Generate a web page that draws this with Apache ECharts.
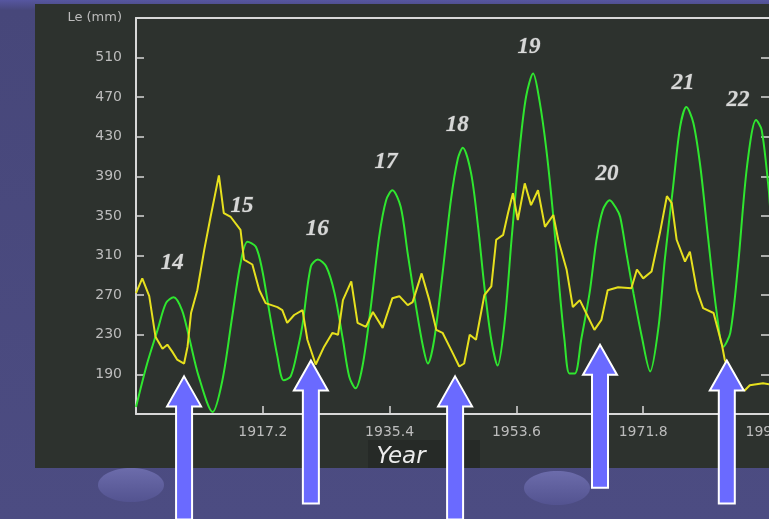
<!DOCTYPE html>
<html>
<head>
<meta charset="utf-8">
<script src="https://cdn.jsdelivr.net/npm/echarts@6/dist/echarts.min.js"></script>
<style>
  html, body { margin: 0; padding: 0; background: #4a4a7e; }
  #chart { width: 769px; height: 519px; }
</style>
</head>
<body>
<div id="chart"></div>
<script>
// Axis ticks
const yearTicks = [1917.2, 1935.4, 1953.6, 1971.8, 1990.0];
const leTicks = [190, 230, 270, 310, 350, 390, 430, 470, 510];

// Green curve: sunspot activity (cycle shape)
const greenYears = [1899.0, 1900.6, 1902.1, 1903.3, 1904.4, 1905.6, 1906.6, 1908.0, 1910.0, 1911.4,
  1912.8, 1914.0, 1915.0, 1916.2, 1917.1, 1918.1, 1919.3, 1920.2, 1921.2, 1922.2,
  1922.9, 1924.1, 1925.1, 1926.3, 1927.5, 1928.7, 1929.6, 1930.5, 1931.5, 1932.7,
  1933.9, 1934.9, 1935.8, 1937.0, 1938.0, 1939.2, 1940.2, 1940.9, 1941.8, 1943.0,
  1944.2, 1945.2, 1945.9, 1947.1, 1948.1, 1949.0, 1950.0, 1950.9, 1951.9, 1952.9,
  1954.1, 1955.0, 1956.0, 1956.9, 1957.9, 1958.9, 1959.8, 1960.5, 1961.2, 1962.0,
  1962.9, 1964.1, 1965.1, 1966.0, 1967.0, 1967.9, 1968.5, 1969.4, 1970.4, 1971.6,
  1972.8, 1974.0, 1974.9, 1976.1, 1977.1, 1978.0, 1979.0, 1980.0, 1981.1, 1982.3,
  1983.3, 1984.3, 1985.4, 1986.7, 1988.0, 1988.8, 1989.8, 1990.0];
const greenValues = [157, 201, 235, 262, 268, 255, 228, 188, 152, 184,
  248, 302, 324, 319, 296, 255, 208, 184, 188, 215,
  240, 299, 306, 299, 272, 225, 188, 176, 198, 258,
  329, 366, 376, 359, 312, 258, 218, 201, 225, 292,
  366, 408, 419, 393, 339, 279, 225, 199, 242, 326,
  420, 471, 494, 467, 417, 349, 275, 225, 191, 191,
  225, 272, 326, 356, 366, 358, 349, 312, 272, 228,
  193, 238, 306, 380, 440, 460, 444, 400, 329, 255,
  218, 232, 299, 400, 447, 437, 378, 360];

// Yellow curve: Le (mm)
const yellowYears = [1899.0, 1899.9, 1900.9, 1901.8, 1902.8, 1903.5, 1904.2, 1904.9, 1905.9, 1906.4,
  1906.9, 1907.8, 1908.8, 1909.7, 1910.9, 1911.6, 1912.6, 1914.0, 1914.5, 1915.7,
  1916.7, 1917.6, 1919.3, 1920.0, 1920.7, 1921.7, 1922.9, 1923.6, 1924.8, 1926.0,
  1927.2, 1928.0, 1928.7, 1929.9, 1930.8, 1932.0, 1933.0, 1934.4, 1935.8, 1936.8,
  1938.0, 1938.7, 1940.0, 1941.1, 1942.1, 1943.0, 1944.5, 1945.4, 1946.1, 1946.9,
  1947.8, 1949.0, 1950.0, 1950.7, 1951.7, 1952.4, 1953.1, 1953.8, 1954.8, 1955.7,
  1956.7, 1957.7, 1958.9, 1959.6, 1960.8, 1961.7, 1962.7, 1963.4, 1964.8, 1965.8,
  1966.7, 1968.2, 1970.1, 1970.9, 1971.8, 1973.0, 1974.2, 1975.2, 1975.9, 1976.6,
  1977.8, 1978.5, 1979.5, 1980.4, 1981.9, 1983.1, 1983.5, 1985.2, 1986.4, 1987.1,
  1989.0, 1990.0];
const yellowValues = [272, 287, 269, 228, 216, 220, 213, 205, 201, 218,
  252, 275, 316, 349, 391, 353, 349, 336, 306, 301,
  275, 262, 258, 255, 242, 250, 255, 225, 200, 218,
  232, 230, 265, 284, 242, 238, 253, 237, 267, 269,
  260, 263, 292, 265, 235, 232, 211, 198, 201, 230,
  225, 270, 279, 326, 331, 353, 373, 346, 383, 361,
  376, 339, 351, 326, 296, 258, 265, 255, 235, 245,
  275, 278, 277, 296, 287, 294, 333, 370, 363, 326,
  304, 314, 275, 257, 252, 220, 205, 176, 174, 179,
  181, 180];

// Cycle numbers written above the green peaks
const cycleNames = ['14', '15', '16', '17', '18', '19', '20', '21', '22'];
const cycleYears = [1904.2, 1914.2, 1925.0, 1934.9, 1945.1, 1955.4, 1966.6, 1977.5, 1985.4];
const cycleValues = [302, 360, 337, 404, 442, 521, 392, 484, 467];

// Arrows marking the minima (tip position in data units)
const arrowYears = [1905.9, 1924.1, 1944.8, 1965.6, 1983.8];
const arrowTips = [188, 204, 188, 220, 204];

const X_MIN = 1899, X_MAX = 1990, Y_MIN = 150, Y_MAX = 550;

const zip = (xs, ys) => xs.map((x, i) => [x, ys[i]]);

const chart = echarts.init(document.getElementById('chart'), null, { renderer: 'canvas' });

const axisColor = '#d8d8d8';
const labelColor = '#bcbcbc';

chart.setOption({
  backgroundColor: {
    type: 'linear', x: 0, y: 0, x2: 0, y2: 1,
    colorStops: [{ offset: 0, color: '#5656a0' }, { offset: 0.02, color: '#47477a' }, { offset: 1, color: '#4c4c82' }]
  },
  animation: false,
  grid: { left: 136, top: 18, width: 634, height: 396, outerBoundsMode: 'none', containLabel: false },
  xAxis: [{
    type: 'value', min: X_MIN, max: X_MAX, position: 'bottom',
    name: 'Year', nameLocation: 'middle', nameGap: 43,
    nameTextStyle: { color: '#ececec', fontFamily: 'DejaVu Sans', fontStyle: 'italic', fontSize: 23,
      verticalAlign: 'middle', padding: [0, 104, 0, 0] },
    axisLine: { show: true, lineStyle: { color: axisColor, width: 2 } },
    axisTick: { show: true, inside: true, length: 8, customValues: yearTicks, lineStyle: { color: axisColor, width: 1.5 } },
    axisLabel: { customValues: yearTicks, color: labelColor, fontFamily: 'DejaVu Sans', fontSize: 14, margin: 11,
      formatter: v => v.toFixed(1) },
    splitLine: { show: false }
  }, {
    type: 'value', min: X_MIN, max: X_MAX, position: 'top',
    axisLine: { show: true, lineStyle: { color: axisColor, width: 2 } },
    axisTick: { show: false }, axisLabel: { show: false }, splitLine: { show: false }
  }],
  yAxis: [{
    type: 'value', min: Y_MIN, max: Y_MAX, position: 'left',
    name: 'Le (mm)', nameLocation: 'end', nameGap: 0,
    nameTextStyle: { color: labelColor, fontFamily: 'DejaVu Sans', fontSize: 13, align: 'right',
      verticalAlign: 'middle', padding: [0, 14, 0, 0] },
    axisLine: { show: true, lineStyle: { color: axisColor, width: 2 } },
    axisTick: { show: true, inside: true, length: 8, customValues: leTicks, lineStyle: { color: axisColor, width: 1.5 } },
    axisLabel: { customValues: leTicks, color: labelColor, fontFamily: 'DejaVu Sans', fontSize: 14, margin: 14 },
    splitLine: { show: false }
  }, {
    type: 'value', min: Y_MIN, max: Y_MAX, position: 'right',
    axisLine: { show: true, lineStyle: { color: axisColor, width: 2 } },
    axisTick: { show: true, inside: true, length: 9, customValues: leTicks, lineStyle: { color: axisColor, width: 1.5 } },
    axisLabel: { show: false }, splitLine: { show: false }
  }],
  series: [{
    type: 'line', name: 'activity', data: zip(greenYears, greenValues),
    symbol: 'none', smooth: 0.3, clip: true,
    lineStyle: { color: '#2fe62f', width: 2 }, z: 3
  }, {
    type: 'line', name: 'Le', data: zip(yellowYears, yellowValues),
    symbol: 'none', smooth: false, clip: true,
    lineStyle: { color: '#e6e01e', width: 2 }, z: 4
  }, {
    type: 'scatter', name: 'cycles',
    data: cycleNames.map((n, i) => ({ name: n, value: [cycleYears[i], cycleValues[i]] })),
    symbolSize: 0, silent: true, z: 5,
    label: {
      show: true, position: 'inside', formatter: p => p.name,
      color: '#ffffff', fontFamily: 'Liberation Serif', fontStyle: 'italic', fontWeight: 'bold', fontSize: 23,
      textBorderColor: 'rgba(150,150,150,0.5)', textBorderWidth: 1
    }
  }]
});

// Decorations: dark panel, bubbles and the arrows marking the minima
function arrowShape(tx, ty) {
  const headH = 30, headW = 17, shaftW = 8, len = 143;
  return [[tx, ty], [tx + headW, ty + headH], [tx + shaftW, ty + headH], [tx + shaftW, ty + len],
          [tx - shaftW, ty + len], [tx - shaftW, ty + headH], [tx - headW, ty + headH]];
}

const bubble = (cx, cy) => ({
  type: 'ellipse', shape: { cx, cy, rx: 33, ry: 17 }, z: -90,
  style: { fill: { type: 'linear', x: 0, y: 0, x2: 0, y2: 1,
    colorStops: [{ offset: 0, color: '#6c6cab' }, { offset: 1, color: '#535390' }] } }
});

const graphics = [
  { type: 'rect', shape: { x: 35, y: 4, width: 740, height: 464 }, style: { fill: '#2d322e' }, z: -100 },
  { type: 'rect', shape: { x: 368, y: 440, width: 112, height: 28 }, style: { fill: '#262a27' }, z: -99 },
  bubble(131, 485),
  bubble(557, 488)
];

arrowYears.forEach((yr, i) => {
  const p = chart.convertToPixel({ gridIndex: 0 }, [yr, arrowTips[i]]);
  graphics.push({
    type: 'polygon', shape: { points: arrowShape(p[0], p[1]) }, z: 100,
    style: { fill: '#6a6aff', stroke: '#ffffff', lineWidth: 2, lineJoin: 'miter' }
  });
});

chart.setOption({ graphic: graphics });
</script>
</body>
</html>
